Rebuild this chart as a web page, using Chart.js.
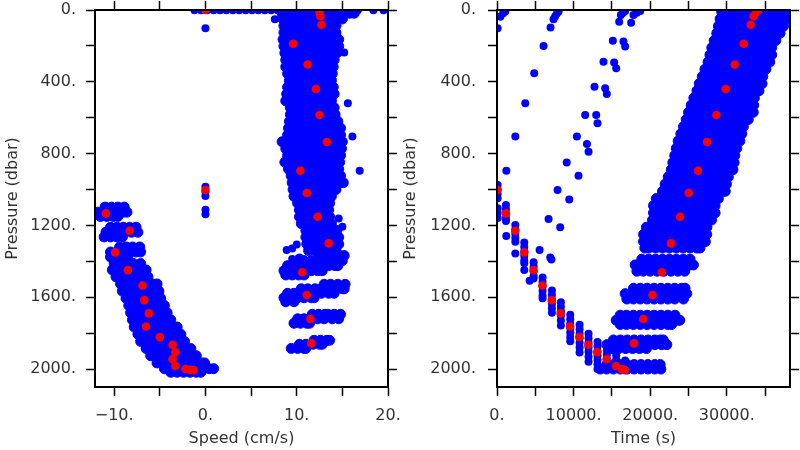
<!DOCTYPE html>
<html>
<head>
<meta charset="utf-8">
<script src="https://cdn.jsdelivr.net/npm/chart.js@4.4.0/dist/chart.umd.min.js"></script>
<style>
  html, body { margin: 0; padding: 0; background: #fff; }
  #wrap { position: relative; width: 800px; height: 450px; overflow: hidden; }
  canvas { position: absolute; top: 0; }
  #speedChart { left: 0; }
  #timeChart { left: 400px; }
</style>
</head>
<body>
<div id="wrap">
  <canvas id="speedChart" width="400" height="450" style="width:400px;height:450px"></canvas>
  <canvas id="timeChart" width="400" height="450" style="width:400px;height:450px"></canvas>
</div>
<script>
// tick positions and labelled ticks
const pressureTicks = [0, 200, 400, 600, 800, 1000, 1200, 1400, 1600, 1800, 2000];
const pressureLabels = [0, 400, 800, 1200, 1600, 2000];
const speedTicks = [-10, -5, 0, 5, 10, 15, 20];
const speedLabels = [-10, 0, 10, 20];
const timeTicks = [0, 5000, 10000, 15000, 20000, 25000, 30000, 35000];
const timeLabels = [0, 10000, 20000, 30000];

// selected (red) samples: pressure, speed, time
const redPressure = [1003, 1133, 1230, 1350, 1449, 1535, 1616, 1690, 1763, 1822, 1865, 1906, 1945, 1983, 2000, 2004, 2006,
                     1857, 1721, 1588, 1461, 1300, 1152, 1019, 895, 735, 585, 440, 304, 188, 82, 35, 12, 0];
const redSpeed = [0, -10.9, -8.3, -9.9, -8.5, -6.9, -6.7, -6.2, -6.5, -5.0, -3.6, -3.3, -3.6, -3.3, -2.2, -1.7, -1.3,
                  11.6, 11.5, 11.1, 10.6, 13.5, 12.3, 11.1, 10.4, 13.3, 12.5, 12.1, 11.2, 9.6, 12.7, 12.6, 12.5, 0];
const redTime = [60, 1160, 2380, 3560, 4760, 5930, 7140, 8310, 9540, 10750, 11920, 13090, 14310, 15520, 16300, 16480, 16690,
                 17880, 19100, 20300, 21500, 22700, 23900, 25030, 26250, 27420, 28640, 29860, 31030, 32200, 33120, 33500, 33850, 34100];

// speed panel, dense ascent cloud: [pressure, speeds...]
const speedUpRows = [
  [18, 8.4, 9.1, 9.9, 10.6, 11.4, 12.1, 12.9, 13.6, 14.4, 15.1, 15.8, 16.3],
  [50, 8.5, 9.2, 9.9, 10.7, 11.4, 12.2, 12.9, 13.7, 14.4, 15.0],
  [88, 8.6, 9.3, 10.0, 10.8, 11.5, 12.3, 13.0, 13.7, 14.3],
  [126, 8.6, 9.4, 10.1, 10.9, 11.6, 12.4, 13.1, 13.8, 14.3],
  [164, 8.5, 9.2, 9.9, 10.7, 11.4, 12.2, 12.9, 13.7, 14.4, 14.6],
  [202, 8.6, 9.3, 10.1, 10.8, 11.6, 12.3, 13.1, 13.8, 14.6],
  [240, 8.7, 9.4, 10.2, 10.9, 11.7, 12.4, 13.2, 13.9, 14.4],
  [278, 8.8, 9.5, 10.3, 11.0, 11.8, 12.5, 13.3, 14.1],
  [316, 8.8, 9.6, 10.3, 11.1, 11.8, 12.6, 13.3, 14.0],
  [354, 9.0, 9.7, 10.5, 11.2, 12.0, 12.7, 13.5, 13.9],
  [392, 9.2, 9.9, 10.7, 11.4, 12.2, 12.9, 13.8],
  [430, 9.0, 9.7, 10.5, 11.2, 12.0, 12.7, 13.5, 14.0],
  [468, 8.9, 9.6, 10.4, 11.1, 11.9, 12.6, 13.4, 14.1],
  [506, 8.8, 9.5, 10.3, 11.0, 11.8, 12.5, 13.3, 13.8],
  [544, 9.3, 10.0, 10.8, 11.5, 12.3, 13.0, 13.8, 14.1],
  [582, 9.3, 10.0, 10.8, 11.5, 12.3, 13.0, 13.7, 14.2],
  [620, 9.2, 9.9, 10.7, 11.4, 12.2, 12.9, 13.7, 14.5],
  [658, 9.1, 9.8, 10.6, 11.3, 12.1, 12.8, 13.6, 14.3, 14.8],
  [696, 9.0, 9.7, 10.5, 11.2, 12.0, 12.7, 13.5, 14.2, 14.8],
  [734, 8.4, 9.1, 9.9, 10.6, 11.4, 12.1, 12.9, 13.6, 14.4, 15.0],
  [772, 8.8, 9.5, 10.3, 11.0, 11.8, 12.5, 13.3, 14.0, 14.9],
  [810, 9.0, 9.7, 10.5, 11.2, 12.0, 12.7, 13.5, 14.2, 14.8],
  [848, 8.7, 9.4, 10.2, 10.9, 11.7, 12.4, 13.2, 13.9, 14.7],
  [886, 9.1, 9.8, 10.6, 11.3, 12.1, 12.8, 13.6, 14.3, 14.6],
  [924, 9.4, 10.1, 10.9, 11.6, 12.4, 13.1, 13.9, 14.6, 14.8],
  [962, 9.5, 10.2, 11.0, 11.7, 12.5, 13.2, 14.0, 14.7, 15.1],
  [1000, 9.6, 10.3, 11.1, 11.8, 12.6, 13.3, 14.0, 14.3],
  [1038, 9.7, 10.4, 11.2, 11.9, 12.7, 13.4, 13.8],
  [1076, 10.1, 10.8, 11.6, 12.3, 13.1, 13.6],
  [1114, 10.3, 11.0, 11.8, 12.5, 13.2, 13.5],
  [1152, 10.3, 11.0, 11.8, 12.5, 13.3, 13.6],
  [1190, 10.5, 11.2, 12.0, 12.7, 13.4, 13.8],
  [1228, 11.0, 11.7, 12.5, 13.2, 13.9, 14.4],
  [1266, 11.0, 11.7, 12.5, 13.2, 14.0, 14.6],
  [1304, 11.1, 11.8, 12.6, 13.3, 14.1, 14.6],
  [1340, 11.3, 12.0, 12.8, 13.5, 14.3],
  [1368, 12.5, 13.2, 14.0, 14.7, 15.2],
  [1396, 10.1, 10.8, 11.6, 12.3, 13.1, 13.8, 14.6, 15.0],
  [1424, 9.0, 9.7, 10.5, 11.2, 12.0, 12.7, 13.5, 14.2, 14.5],
  [1452, 8.6, 9.3, 10.1, 10.8, 11.6, 12.3, 12.8],
  [1476, 8.8, 9.5, 10.2, 10.8],
  [1528, 13.0, 13.7, 14.5, 15.3],
  [1553, 10.5, 11.2, 12.0, 12.7, 13.5, 14.2, 15.0, 15.2],
  [1578, 9.0, 9.7, 10.5, 11.2, 12.0, 12.7, 13.5, 14.1],
  [1603, 8.6, 9.3, 10.1, 10.8, 11.6, 11.9],
  [1625, 8.8, 9.7],
  [1695, 11.7, 12.4, 13.1, 13.4, 14.1, 14.8],
  [1720, 10.1, 10.8, 11.6, 12.3, 13.0, 13.9, 14.6],
  [1745, 9.7, 10.4, 11.1, 11.4],
  [1840, 11.9, 12.6, 13.3, 13.6],
  [1862, 10.3, 11.0, 11.8, 12.5, 12.8],
  [1885, 9.4, 10.1, 10.8, 11.0]
];

// speed panel, dense descent cloud
const speedDownRows = [
  [1098, -11.0, -10.3, -9.6, -8.9],
  [1126, -11.8, -11.1, -10.4, -9.7, -9.0, -8.6],
  [1150, -11.5, -10.8, -10.1, -9.6],
  [1210, -10.4, -9.7, -9.0, -8.3, -7.6],
  [1238, -10.9, -10.2, -9.5, -8.8, -8.1, -7.4],
  [1264, -11.1, -10.4, -9.7, -9.1],
  [1320, -9.4, -8.7, -8.0, -7.2],
  [1348, -10.4, -9.7, -9.0, -8.3, -7.6, -7.1],
  [1376, -10.4, -9.7, -9.0, -8.5],
  [1412, -10.0, -9.3, -8.6, -7.9, -7.1],
  [1448, -10.2, -9.5, -8.8, -8.1, -7.3, -6.5],
  [1486, -9.8, -9.1, -8.4, -7.7, -7.0, -6.3],
  [1526, -9.3, -8.6, -7.9, -7.2, -6.5, -5.8, -5.3],
  [1566, -9.1, -8.4, -7.7, -7.0, -6.3, -5.6, -5.1],
  [1606, -8.7, -8.0, -7.3, -6.6, -5.9, -5.2, -4.9],
  [1646, -8.4, -7.7, -7.0, -6.3, -5.6, -4.9, -4.5],
  [1686, -8.2, -7.5, -6.8, -6.1, -5.4, -4.7, -4.2],
  [1726, -8.0, -7.3, -6.6, -5.9, -5.2, -4.5, -3.8],
  [1766, -7.8, -7.1, -6.4, -5.7, -5.0, -4.3, -3.6, -3.1],
  [1806, -7.4, -6.7, -6.0, -5.3, -4.6, -3.9, -3.2, -2.7],
  [1846, -7.1, -6.4, -5.7, -5.0, -4.3, -3.6, -2.9, -2.3],
  [1886, -6.5, -5.8, -5.1, -4.4, -3.7, -3.0, -2.3, -1.6],
  [1926, -6.0, -5.3, -4.6, -3.9, -3.2, -2.5, -1.8, -1.0],
  [1966, -5.3, -4.6, -3.9, -3.2, -2.5, -1.8, -1.1, -0.4, -0.1],
  [1998, -4.5, -3.8, -3.1, -2.4, -1.7, -1.0, -0.3, 0.4, 0.9],
  [2018, -3.8, -3.1, -2.4, -1.7, -1.0, -0.5]
];

// speed panel, surface samples (pressure 2) and scattered single samples
const speedSurface = [-1.2, -0.5, 0.2, 0.9, 1.6, 2.3, 3.0, 3.7, 4.4, 5.1, 5.8, 6.5, 7.2, 7.9, 8.6, 9.3, 10.0,
                      10.7, 11.4, 12.1, 12.8, 13.5, 14.2, 14.9, 15.6, 16.2, 16.7, 18.4, 19.5];
const speedSparse = [[0, 102], [7.6, 52], [15.2, 237], [15.6, 520], [16.1, 705], [16.9, 896], [14.6, 1161],
                     [15.0, 1208], [8.9, 1337], [9.5, 1328], [10.0, 1306], [9.5, 1387], [10.3, 1378],
                     [0, 985], [0, 1012], [0, 1036], [0, 1112], [0, 1138]];

// time panel, dense ascent cloud: [pressure, times...]
const timeUpRows = [
  [10, 29340, 30200, 31100, 32000, 32900, 33800, 34700, 35600, 36500, 37400, 38250],
  [50, 29120, 29600, 30500, 31400, 32300, 33200, 34100, 35000, 35900, 36800, 37810],
  [90, 28900, 29800, 30700, 31600, 32500, 33400, 34300, 35200, 36100, 37000, 37400],
  [130, 28690, 29200, 30100, 31000, 31900, 32800, 33700, 34600, 35500, 36400, 36950],
  [170, 28350, 29200, 30100, 31000, 31900, 32800, 33700, 34600, 35500, 36400],
  [210, 28040, 28700, 29600, 30500, 31400, 32300, 33200, 34100, 35000, 35860],
  [250, 27800, 28700, 29600, 30500, 31400, 32300, 33200, 34100, 35000, 35860],
  [290, 27550, 28200, 29100, 30000, 30900, 31800, 32700, 33600, 34500, 35400, 35600],
  [330, 27150, 28000, 28900, 29800, 30700, 31600, 32500, 33400, 34300, 35100],
  [370, 26800, 27500, 28400, 29300, 30200, 31100, 32000, 32900, 33800, 34700],
  [410, 26400, 27300, 28200, 29100, 30000, 30900, 31800, 32700, 33600, 34600],
  [450, 26100, 26800, 27700, 28600, 29500, 30400, 31300, 32200, 33100, 34000, 34200],
  [490, 25700, 26600, 27500, 28400, 29300, 30200, 31100, 32000, 32900, 33600],
  [530, 25350, 26000, 26900, 27800, 28700, 29600, 30500, 31400, 32300, 33200, 33500],
  [570, 25000, 25900, 26800, 27700, 28600, 29500, 30400, 31300, 32200, 33100, 33450],
  [610, 24700, 25400, 26300, 27200, 28100, 29000, 29900, 30800, 31700, 32600, 32800],
  [650, 24340, 25200, 26100, 27000, 27900, 28800, 29700, 30600, 31500, 32160],
  [690, 24000, 24700, 25600, 26500, 27400, 28300, 29200, 30100, 31000, 31950],
  [730, 23650, 24500, 25400, 26300, 27200, 28100, 29000, 29900, 30800, 31700],
  [770, 23400, 24100, 25000, 25900, 26800, 27700, 28600, 29500, 30400, 31300],
  [810, 23200, 24000, 24900, 25800, 26700, 27600, 28500, 29400, 30300, 31050],
  [850, 22950, 23600, 24500, 25400, 26300, 27200, 28100, 29000, 29900, 30800, 30950],
  [890, 22750, 23600, 24500, 25400, 26300, 27200, 28100, 29000, 29900, 30800],
  [930, 22350, 23100, 24000, 24900, 25800, 26700, 27600, 28500, 29400, 30200],
  [970, 21950, 22800, 23700, 24600, 25500, 26400, 27300, 28200, 29100, 29950],
  [1010, 21600, 22300, 23200, 24100, 25000, 25900, 26800, 27700, 28600, 29500, 29800],
  [1050, 20800, 21700, 22600, 23500, 24400, 25300, 26200, 27100, 28000, 28900],
  [1090, 20430, 21200, 22100, 23000, 23900, 24800, 25700, 26600, 27500, 28470],
  [1130, 20430, 21300, 22200, 23100, 24000, 24900, 25800, 26700, 27600, 28470],
  [1170, 20300, 20900, 21800, 22700, 23600, 24500, 25400, 26300, 27200, 28000],
  [1210, 19500, 20400, 21300, 22200, 23100, 24000, 24900, 25800, 26700, 27400],
  [1250, 19130, 19900, 20800, 21700, 22600, 23500, 24400, 25300, 26200, 27100, 27380],
  [1290, 19130, 20000, 20900, 21800, 22700, 23600, 24500, 25400, 26300, 27200],
  [1326, 19300, 19800, 20700, 21600, 22500, 23400, 24300, 25200, 26100, 26500],
  [1388, 18900, 19800, 20700, 21600, 22500, 23400, 24300, 25200],
  [1420, 18040, 18900, 19800, 20700, 21600, 22500, 23400, 24300, 25200, 25640],
  [1455, 18260, 19100, 20000, 20900, 21800, 22700, 23600, 24500],
  [1550, 17820, 18700, 19600, 20500, 21400, 22300, 23200, 24100, 24550],
  [1580, 16730, 17600, 18500, 19400, 20300, 21200, 22100, 23000, 23900, 24770],
  [1610, 16950, 17800, 18700, 19600, 20500, 21400, 22300, 23200, 24340],
  [1700, 16080, 16900, 17800, 18700, 19600, 20500, 21400, 22300, 23240],
  [1728, 15560, 16400, 17300, 18200, 19100, 20000, 20900, 21800, 22700, 23600, 23860],
  [1752, 16080, 16900, 17800, 18700, 19600, 20500, 21400, 22300, 22800],
  [1838, 15200, 16100, 17000, 17900, 18800, 19700, 20600, 21300, 21700],
  [1864, 14340, 15200, 16100, 17000, 17900, 18800, 19700, 20600, 21500, 22170],
  [1886, 15000, 15900, 16800, 17700, 18600, 19500],
  [1975, 14340, 15200, 16100, 17000, 17900, 18800, 19700, 20600, 21300],
  [2000, 13470, 14300, 15200, 16100, 17000, 17900, 18800, 19700, 20600, 21390]
];

// time panel, descent streaks: [time, pressures...]
const timeDownCols = [
  [80, 975, 1000, 1025, 1049, 1105, 1130, 1158],
  [1170, 1086, 1110, 1135, 1158, 1175],
  [2390, 1198, 1222, 1246, 1270, 1291],
  [3560, 1295, 1320, 1345, 1370, 1395, 1410],
  [4780, 1405, 1430, 1455, 1480, 1495],
  [5950, 1490, 1515, 1540, 1565, 1590, 1605],
  [7170, 1562, 1587, 1612, 1637, 1662, 1686],
  [8340, 1628, 1653, 1678, 1703, 1730, 1757],
  [9560, 1697, 1722, 1747, 1772, 1797, 1822, 1845],
  [10780, 1753, 1778, 1803, 1828, 1853, 1880, 1908],
  [11950, 1804, 1829, 1854, 1879, 1904, 1932, 1960],
  [13120, 1850, 1875, 1900, 1925, 1950, 1975, 2000],
  [14340, 1896, 1921, 1946, 1971, 2000],
  [15560, 1925, 1950, 1975, 2000],
  [16730, 1952, 1976, 2000]
];

// time panel, scattered single samples [time, pressure]
const timeSparse = [[80, 102], [430, 37], [780, 19], [1080, 9], [1220, 895], [2390, 705], [3690, 520], [4860, 353],
  [6080, 200], [6990, 97], [7380, 52], [7600, 35], [7820, 20], [8040, 9],
  [11510, 585], [12950, 585], [13120, 631], [12730, 427], [14120, 436], [14340, 468], [13900, 288], [15290, 293],
  [15560, 325], [15120, 171], [16510, 176], [16730, 204], [15950, 65], [16170, 28], [16450, 15], [16730, 6],
  [17510, 71], [17820, 28], [18250, 15], [18690, 6],
  [7910, 1003], [9430, 1055], [10640, 923], [9100, 849], [10430, 705], [11740, 746], [11950, 789], [6730, 1164],
  [8250, 1210], [5560, 1337], [6950, 1378], [7100, 1390], [1210, 1259], [2390, 1356], [3560, 1448], [4260, 1508]];

const BLUE = '#0000ff';
const RED = '#ff0000';

Chart.defaults.font.family = "'DejaVu Sans', sans-serif";
Chart.defaults.font.size = 16;
Chart.defaults.color = '#333';

function rowsToPoints(rows) {
  const pts = [];
  rows.forEach(r => { for (let i = 1; i < r.length; i++) pts.push({ x: r[i], y: r[0] }); });
  return pts;
}
function colsToPoints(cols) {
  const pts = [];
  cols.forEach(c => { for (let i = 1; i < c.length; i++) pts.push({ x: c[0], y: c[i] }); });
  return pts;
}
const pairs = list => list.map(p => ({ x: p[0], y: p[1] }));

function fmtNum(v) {
  return (v < 0 ? '\u2212' + (-v) : String(v)) + '.';
}

// fix a scale's thickness and drop the label overhang padding Chart.js adds
function fixSize(px) {
  return s => {
    if (s.isHorizontal()) s.height = px; else s.width = px;
    s.paddingLeft = 0; s.paddingRight = 0; s.paddingTop = 0; s.paddingBottom = 0;
  };
}
const setTicks = values => s => { s.ticks = values.map(v => ({ value: v })); };

function makeScales(xMin, xMax, xTicks, xLabels, xTitle, yWidth, rightWidth, yPad, yTitlePad) {
  const grid = { drawOnChartArea: false, tickLength: 9, tickWidth: 1.5, tickColor: '#000' };
  const border = { color: '#000', width: 2, z: 1 };
  const tickOpts = { autoSkip: false, maxRotation: 0, minRotation: 0 };
  return {
    x: {
      type: 'linear', position: 'bottom', min: xMin, max: xMax, grid, border,
      ticks: { ...tickOpts, padding: 10, callback: v => xLabels.includes(v) ? fmtNum(v) : '' },
      title: { display: true, text: xTitle, padding: { top: 0, bottom: 2 } },
      afterBuildTicks: setTicks(xTicks),
      afterFit: fixSize(63)
    },
    xTop: {
      type: 'linear', position: 'top', min: xMin, max: xMax, grid, border,
      ticks: { ...tickOpts, callback: () => '' },
      afterBuildTicks: setTicks(xTicks),
      afterFit: fixSize(10)
    },
    y: {
      type: 'linear', position: 'left', reverse: true, min: 0, max: 2100, grid, border,
      ticks: { ...tickOpts, padding: yPad, callback: v => pressureLabels.includes(v) ? fmtNum(v) : '' },
      title: { display: true, text: 'Pressure (dbar)', padding: { top: yTitlePad, bottom: 0 } },
      afterBuildTicks: setTicks(pressureTicks),
      afterFit: fixSize(yWidth)
    },
    yRight: {
      type: 'linear', position: 'right', reverse: true, min: 0, max: 2100, grid, border,
      ticks: { ...tickOpts, callback: () => '' },
      afterBuildTicks: setTicks(pressureTicks),
      afterFit: fixSize(rightWidth)
    }
  };
}

function makeDatasets(red, sparse, cloud) {
  return [
    { label: 'selected', data: red, pointRadius: 4.3, pointBackgroundColor: RED, pointBorderWidth: 0, clip: 0, order: 0 },
    { label: 'single', data: sparse, pointRadius: 4, pointBackgroundColor: BLUE, pointBorderWidth: 0, clip: 0, order: 1 },
    { label: 'cloud', data: cloud, pointRadius: 5, pointBackgroundColor: BLUE, pointBorderColor: BLUE, pointBorderWidth: 1, clip: 0, order: 2 }
  ];
}

const baseOptions = {
  responsive: false,
  animation: false,
  devicePixelRatio: 1,
  layout: { padding: 0 },
  plugins: { legend: { display: false }, tooltip: { enabled: false } },
  events: []
};

// --- Speed vs pressure ---
const speedRed = redPressure.map((p, i) => ({ x: redSpeed[i], y: p }));
const speedSingle = speedSurface.map(s => ({ x: s, y: 2 })).concat(pairs(speedSparse));
const speedCloud = rowsToPoints(speedUpRows).concat(rowsToPoints(speedDownRows));

new Chart(document.getElementById('speedChart'), {
  type: 'scatter',
  data: { datasets: makeDatasets(speedRed, speedSingle, speedCloud) },
  options: { ...baseOptions, scales: makeScales(-12.1, 20, speedTicks, speedLabels, 'Speed (cm/s)', 95, 12, 10, 3) }
});

// --- Time vs pressure ---
const timeRed = redPressure.map((p, i) => ({ x: redTime[i], y: p }));
const timeSingle = pairs(timeSparse).concat(colsToPoints(timeDownCols));
const timeCloud = rowsToPoints(timeUpRows);

new Chart(document.getElementById('timeChart'), {
  type: 'scatter',
  data: { datasets: makeDatasets(timeRed, timeSingle, timeCloud) },
  options: { ...baseOptions, scales: makeScales(0, 38250, timeTicks, timeLabels, 'Time (s)', 97, 10, 12, 1) }
});
</script>
</body>
</html>
